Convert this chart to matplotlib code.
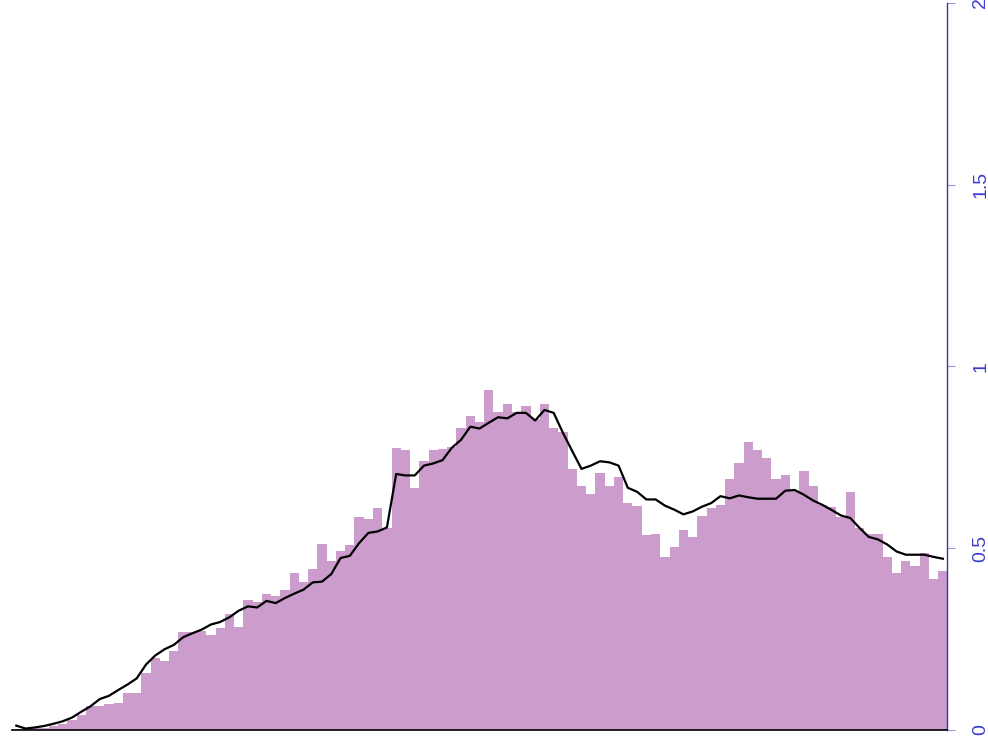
import numpy as np
import matplotlib
matplotlib.use('Agg')
import matplotlib.pyplot as plt

# valores (101 barras, una linea encima)
bar_values = [0.004, 0.004, 0.005, 0.006, 0.012, 0.017, 0.028, 0.04, 0.066, 0.066,
              0.071, 0.075, 0.103, 0.103, 0.157, 0.198, 0.19, 0.216, 0.269, 0.269,
              0.272, 0.26, 0.28, 0.319, 0.282, 0.358, 0.351, 0.374, 0.369, 0.384,
              0.432, 0.407, 0.444, 0.512, 0.466, 0.491, 0.508, 0.585, 0.579, 0.611,
              0.556, 0.776, 0.771, 0.666, 0.741, 0.769, 0.773, 0.779, 0.831, 0.863,
              0.847, 0.934, 0.874, 0.897, 0.874, 0.891, 0.854, 0.897, 0.831, 0.82,
              0.719, 0.67, 0.649, 0.707, 0.67, 0.696, 0.623, 0.615, 0.535, 0.539,
              0.476, 0.502, 0.551, 0.53, 0.588, 0.61, 0.62, 0.69, 0.734, 0.793,
              0.771, 0.749, 0.691, 0.70, 0.657, 0.713, 0.67, 0.62, 0.614, 0.587,
              0.654, 0.556, 0.54, 0.54, 0.477, 0.432, 0.465, 0.45, 0.486, 0.416, 0.436]

line_values = [0.012, 0.004, 0.007, 0.011, 0.017, 0.024, 0.034, 0.05, 0.065, 0.085,
               0.094, 0.11, 0.125, 0.142, 0.18, 0.205, 0.222, 0.234, 0.255, 0.266,
               0.276, 0.29, 0.297, 0.31, 0.328, 0.34, 0.337, 0.355, 0.349, 0.363,
               0.375, 0.386, 0.406, 0.408, 0.429, 0.473, 0.479, 0.514, 0.542, 0.546,
               0.557, 0.704, 0.7, 0.7, 0.727, 0.733, 0.742, 0.776, 0.798, 0.834,
               0.829, 0.845, 0.86, 0.857, 0.872, 0.872, 0.851, 0.88, 0.872, 0.817,
               0.767, 0.718, 0.727, 0.739, 0.736, 0.727, 0.666, 0.655, 0.634, 0.634,
               0.617, 0.606, 0.593, 0.601, 0.614, 0.624, 0.643, 0.637, 0.645, 0.64,
               0.636, 0.636, 0.636, 0.658, 0.66, 0.647, 0.631, 0.619, 0.605, 0.59,
               0.583, 0.556, 0.531, 0.524, 0.51, 0.491, 0.482, 0.482, 0.482, 0.476, 0.471]

y_ticks = [0, 0.5, 1, 1.5, 2]
y_tick_labels = ['0', '0.5', '1', '1.5', '2']

x = np.arange(len(bar_values))

fig = plt.figure(figsize=(9.88, 7.4), dpi=100)
ax = fig.add_axes([0.0118, 0.0135, 0.959 - 0.0118, 0.9964 - 0.0135])

# barras pegadas, sin borde
ax.bar(x, bar_values, width=1.0, color='#cc9ccc', linewidth=0)
ax.plot(x, line_values, color='black', linewidth=1.6)

ax.set_xlim(-0.5, len(bar_values) - 0.5)
ax.set_ylim(0, 2)

# eje derecho azul, eje inferior negro
ax.spines['left'].set_visible(False)
ax.spines['top'].set_visible(False)
ax.spines['right'].set_color('#3333bb')
ax.spines['right'].set_linewidth(1.0)
ax.spines['bottom'].set_color('black')
ax.spines['bottom'].set_linewidth(1.2)

ax.set_xticks([])
ax.yaxis.tick_right()
ax.set_yticks(y_ticks)
ax.set_yticklabels(y_tick_labels, rotation=90, va='center',
                   fontsize=14, family='Liberation Sans', color='#3b3bd0')
ax.tick_params(axis='y', direction='out', length=6, width=0.8,
               color='#9999dd', pad=12)

fig.savefig('out.png', dpi=100)
